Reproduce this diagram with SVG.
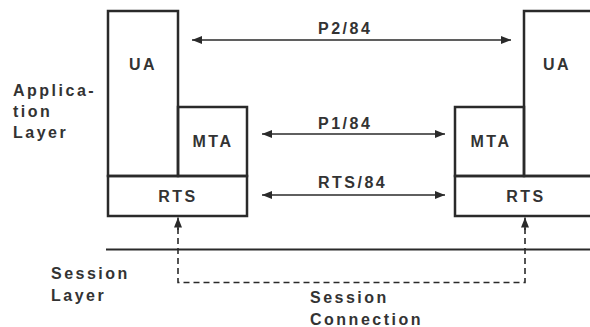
<svg xmlns="http://www.w3.org/2000/svg" width="590" height="327" viewBox="0 0 590 327">
<style>
.box{fill:none;stroke:#2a2a2a;stroke-width:2.5}
.lbl{font-family:"Liberation Sans",Arial,sans-serif;font-weight:bold;font-size:16px;fill:#333;letter-spacing:2.5px}
.c{text-anchor:middle}
.arr{stroke:#2a2a2a;stroke-width:1.6;fill:none}
.dash{stroke:#2a2a2a;stroke-width:1.6;fill:none;stroke-dasharray:6 4}
</style>
<defs>
<marker id="ah" viewBox="0 0 10 8" refX="10" refY="4" markerWidth="10" markerHeight="8" markerUnits="userSpaceOnUse" orient="auto-start-reverse">
<path d="M0,0 L10,4 L0,8 Z" fill="#2a2a2a"/>
</marker>
</defs>
<rect width="590" height="327" fill="#fff"/>
<g id="app-layer-label">
<text class="lbl" x="13" y="96">Applica-</text>
<text class="lbl" x="13" y="117">tion</text>
<text class="lbl" x="13" y="138">Layer</text>
</g>
<g id="session-layer-label">
<text class="lbl" x="51" y="279">Session</text>
<text class="lbl" x="51" y="301">Layer</text>
</g>
<g id="left-ua">
<rect class="box" x="108" y="11" width="70" height="165"/>
<text class="lbl c" x="143" y="70">UA</text>
</g>
<g id="left-mta">
<rect class="box" x="178" y="107" width="69" height="69"/>
<text class="lbl c" x="213" y="147">MTA</text>
</g>
<g id="left-rts">
<rect class="box" x="108" y="176" width="139" height="40"/>
<text class="lbl c" x="178" y="202">RTS</text>
</g>
<g id="right-ua">
<rect class="box" x="524" y="11" width="80" height="165"/>
<text class="lbl c" x="557" y="70">UA</text>
</g>
<g id="right-mta">
<rect class="box" x="455" y="107" width="69" height="69"/>
<text class="lbl c" x="491" y="147">MTA</text>
</g>
<g id="right-rts">
<rect class="box" x="455" y="176" width="149" height="40"/>
<text class="lbl c" x="526" y="202">RTS</text>
</g>
<g id="session-boundary">
<line x1="106" y1="249.5" x2="590" y2="249.5" stroke="#2a2a2a" stroke-width="1.8"/>
</g>
<g id="connectors">
<line class="arr" x1="192" y1="40" x2="511" y2="40" marker-start="url(#ah)" marker-end="url(#ah)"/>
<line class="arr" x1="262" y1="134" x2="445" y2="134" marker-start="url(#ah)" marker-end="url(#ah)"/>
<line class="arr" x1="262" y1="195" x2="445" y2="195" marker-start="url(#ah)" marker-end="url(#ah)"/>
<path class="dash" d="M178,228 V282.5 H525 V228"/>
<line class="arr" x1="178" y1="230" x2="178" y2="217.5" marker-end="url(#ah)"/>
<line class="arr" x1="525" y1="230" x2="525" y2="217.5" marker-end="url(#ah)"/>
<text class="lbl" x="318" y="34">P2/84</text>
<text class="lbl" x="318" y="129">P1/84</text>
<text class="lbl" x="318" y="188">RTS/84</text>
<text class="lbl" x="310" y="303">Session</text>
<text class="lbl" x="310" y="325">Connection</text>
</g>
</svg>
